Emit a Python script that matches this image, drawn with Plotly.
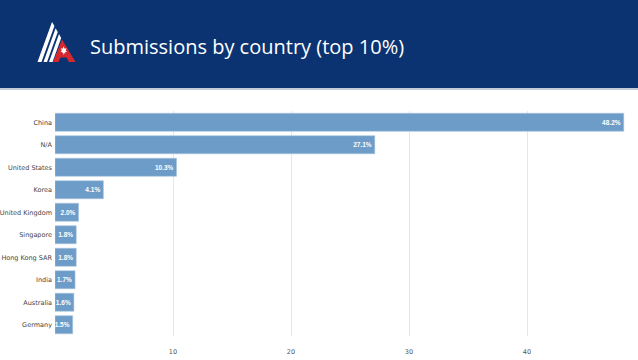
import plotly.graph_objects as go

countries = ["China", "N/A", "United States", "Korea", "United Kingdom",
             "Singapore", "Hong Kong SAR", "India", "Australia", "Germany"]
shares = [48.2, 27.1, 10.3, 4.1, 2.0, 1.8, 1.8, 1.7, 1.6, 1.5]
labels = ["48.2%", "27.1%", "10.3%", "4.1%", "2.0%", "1.8%", "1.8%", "1.7%", "1.6%", "1.5%"]
x_ticks = [10, 20, 30, 40]
title_text = "Submissions by country (top 10%)"

W, H = 638, 360
ML, MR, MT, MB = 55, 8, 111, 24
PW, PH = W - ML - MR, H - MT - MB


def px(x):
    return (x - ML) / PW


def py(y):
    return (H - MB - y) / PH


fig = go.Figure()
fig.add_trace(go.Bar(
    x=shares, y=countries, orientation="h",
    marker=dict(color="#6c9cc7", line=dict(color="#a9c4de", width=0.6)),
    text=labels, textposition="inside", insidetextanchor="end",
    constraintext="none", textangle=0,
    textfont=dict(color="white", size=6.5, family="Liberation Sans", weight="bold"),
    hoverinfo="skip",
))

shapes = [
    dict(type="rect", xref="paper", yref="paper", x0=px(0), x1=px(W), y0=py(88), y1=py(0),
         fillcolor="#0b3372", line=dict(width=0), layer="above"),
    dict(type="rect", xref="paper", yref="paper", x0=px(0), x1=px(W), y0=py(90), y1=py(88),
         fillcolor="#c3cbd8", line=dict(width=0), layer="above"),
]


def poly(points, color):
    d = "M " + " L ".join(f"{px(a)},{py(b)}" for a, b in points) + " Z"
    return dict(type="path", xref="paper", yref="paper", path=d, fillcolor=color,
                line=dict(width=0), layer="above")


# logo: white stripes
shapes.append(poly([(37.5, 62), (41.5, 62), (54.4, 26.1), (52, 21.9)], "white"))
shapes.append(poly([(43.5, 62), (47, 62), (57.8, 32), (55.6, 28.3)], "white"))
shapes.append(poly([(49, 62), (52.5, 62), (61.2, 37.9), (59.0, 34.1)], "white"))
# red A
shapes.append(poly([(53, 62), (62, 39.5), (75.5, 62), (69, 62), (66.5, 57.5), (60.5, 57.5), (58.5, 62)], "#d8282f"))
# maple leaf (simplified)
shapes.append(poly([(63.5, 46.5), (64.7, 48.8), (66.5, 48.3), (65.7, 50.8), (67, 51.2), (64.5, 53), (63.8, 55),
                    (63.2, 53), (60.5, 51.2), (61.8, 50.8), (61, 48.3), (62.6, 48.8)], "white"))

fig.update_layout(
    width=W, height=H,
    margin=dict(l=ML, r=MR, t=MT, b=MB, autoexpand=False),
    paper_bgcolor="white", plot_bgcolor="white",
    showlegend=False, bargap=0.2,
    font=dict(family="DejaVu Sans", color="#333333"),
    shapes=shapes,
    annotations=[dict(text=title_text, xref="paper", yref="paper", x=px(88), y=py(47),
                      xanchor="left", yanchor="middle", showarrow=False,
                      font=dict(family="Open Sans", size=20, color="white"))],
    xaxis=dict(range=[0, PW / 11.8], tickvals=x_ticks, showgrid=True, gridcolor="#e4e6ec",
               gridwidth=1, zeroline=False, showline=False, ticks="", automargin=False,
               tickfont=dict(size=6.5, color="#555555"), ticklabelstandoff=10),
    yaxis=dict(autorange="reversed", showgrid=False, zeroline=False, showline=False,
               ticks="", automargin=False,
               tickfont=dict(size=6.5, color="#444444"), ticklabelstandoff=2),
)

fig.write_html("out.html", config={"displayModeBar": False},
               post_script="document.body.style.margin='0';document.body.style.overflow='hidden';")
